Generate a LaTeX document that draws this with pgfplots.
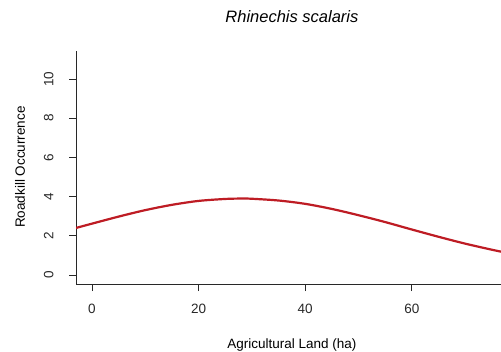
\documentclass[border=0pt]{standalone}
\usepackage{pgfplots}
\pgfplotsset{compat=1.18}
\usepackage{fontspec}
\setmainfont{Liberation Sans}
\definecolor{fitred}{RGB}{190,28,36}
\definecolor{axgray}{RGB}{40,40,40}

\begin{document}
\begin{tikzpicture}[x=1pt,y=1pt]
\clip (0,0) rectangle (501,351);
\path[fill=white] (0,0) rectangle (501,351);
\begin{axis}[
  at={(76pt,67pt)}, anchor=south west,
  scale only axis, width=431.8pt, height=233pt,
  xmin=-3, xmax=78, ymin=-0.46, ymax=11.43,
  axis line style={axgray, line width=0.8pt},
  axis x line*=bottom, axis y line*=left,
  xtick={0,20,40,60}, ytick={0,2,4,6,8,10},
  tick align=outside, tick style={axgray, line width=0.8pt},
  major tick length=7pt,
  /pgf/number format/assume math mode=true,
  tick label style={font=\fontsize{13.5}{15}\selectfont, text=axgray},
  xticklabel style={anchor=center, yshift=-18pt},
  every y tick label/.append style={rotate=90, anchor=south, yshift=12pt},
  title={\textit{Rhinechis scalaris}},
  title style={font=\fontsize{16.5}{19}\selectfont, at={(rel axis cs:0.5,1.12)}, anchor=center},
  xlabel={Agricultural Land (ha)},
  xlabel style={font=\fontsize{13.5}{15}\selectfont, at={(rel axis cs:0.5,-0.262)}, anchor=center},
  ylabel={Roadkill Occurrence},
  ylabel style={font=\fontsize{13.5}{15}\selectfont, at={(rel axis cs:-0.1297,0.502)}, anchor=center, rotate=0},
]
\addplot[fitred, line width=2.2pt, smooth] coordinates {
  (-3,2.40) (0,2.62) (5,2.98) (10,3.31) (15,3.58) (20,3.78) (25,3.88)
  (28,3.90) (30,3.89) (35,3.80) (40,3.63) (45,3.37) (50,3.05) (55,2.70)
  (60,2.32) (65,1.95) (70,1.60) (75,1.29) (78,1.12)
};
\end{axis}
\end{tikzpicture}
\end{document}
